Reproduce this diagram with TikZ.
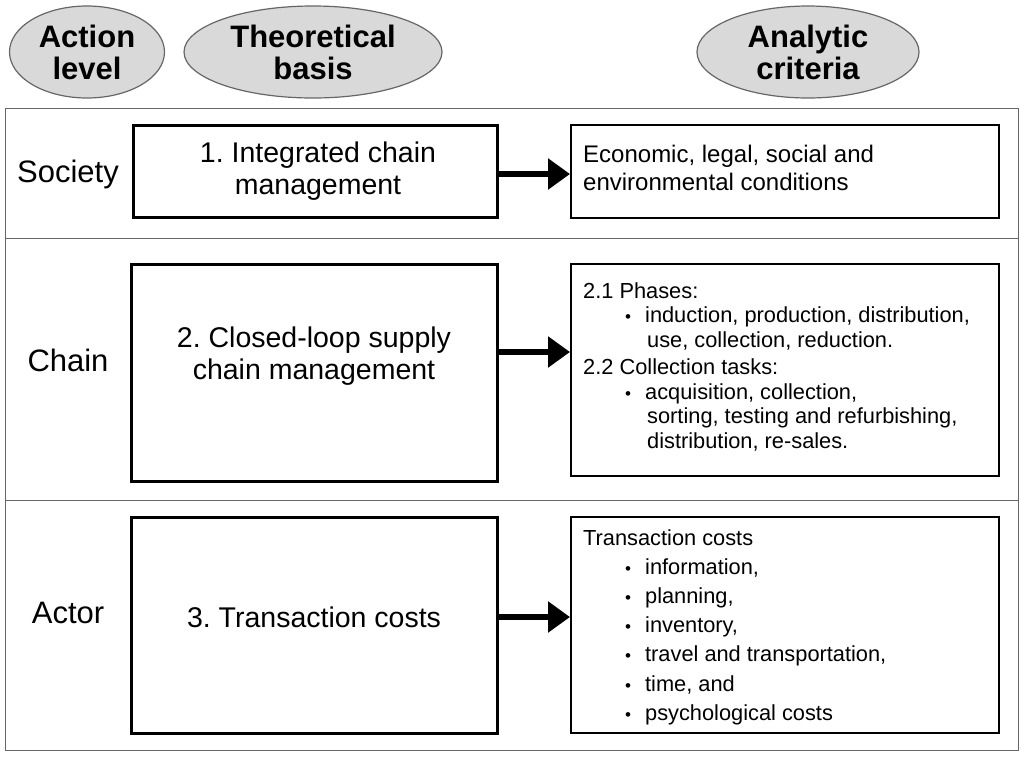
\documentclass[tikz,border=0pt]{standalone}
\usepackage{fontspec}
\setmainfont{Liberation Sans}
\usetikzlibrary{shapes.geometric,arrows.meta}
\frenchspacing
\newcommand{\bul}{\hspace*{42pt}{\fontsize{17}{17}\selectfont\textbullet}\hspace{14pt}}
\begin{document}
\begin{tikzpicture}[x=1pt,y=-1pt,
  hdr/.style={ellipse,draw=gray!80!black,fill=gray!30,line width=1.2pt,font=\bfseries\fontsize{31}{32}\selectfont,align=center,inner sep=0pt},
  lbox/.style={draw=black,line width=3pt},
  rbox/.style={draw=black,line width=1.2pt},
  row/.style={font=\fontsize{31}{33}\selectfont},
  ltxt/.style={font=\fontsize{28.5}{32}\selectfont,align=center},
  rtxt/.style={font=\fontsize{21.8}{24.5}\selectfont,align=left,anchor=north west,inner sep=0pt},
  arr/.style={line width=6pt,-{Triangle[length=22pt,width=30pt]}}]
\useasboundingbox (0,0) rectangle (1024,756);
\node[hdr,minimum width=155,minimum height=92] (h1) at (87,52) {Action\\level};
\node[hdr,minimum width=258,minimum height=92] (h2) at (313,52) {Theoretical\\basis};
\node[hdr,minimum width=222,minimum height=92] (h3) at (808,52) {Analytic\\criteria};
\draw[gray!80!black,line width=1pt] (5,108) rectangle (1018,750);
\draw[gray!80!black,line width=1pt] (5,238) -- (1018,238) (5,500) -- (1018,500);
\node[row] (s) at (68,174) {Society};
\node[row] (c) at (68,360) {Chain};
\node[row] (a) at (68,613) {Actor};
\draw[lbox] (133,125) rectangle (497,217);
\node[ltxt] (l1) at (318,171) {1. Integrated chain\\management};
\draw[lbox] (131,264) rectangle (497,481);
\node[ltxt] (l2) at (314,356) {2. Closed-loop supply\\chain management};
\draw[lbox] (131,517) rectangle (497,733);
\node[ltxt] (l3) at (314,617) {3. Transaction costs};
\draw[rbox] (571,125) rectangle (999,218);
\node[rtxt,font=\fontsize{24}{28}\selectfont] (r1) at (583,145) {Economic, legal, social and\\environmental conditions};
\draw[rbox] (571,264) rectangle (999,476);
\node[rtxt] (r2) at (583,282) {2.1 Phases:\\
\bul induction, production, distribution,\\
\hspace*{64pt}use, collection, reduction.\\[3pt]
2.2 Collection tasks:\\
\bul acquisition, collection,\\
\hspace*{64pt}sorting, testing and refurbishing,\\
\hspace*{64pt}distribution, re-sales.};
\draw[rbox] (571,517) rectangle (999,733);
\node[rtxt,font=\fontsize{21.8}{29.2}\selectfont] (r3) at (583,529) {Transaction costs\\
\bul information,\\
\bul planning,\\
\bul inventory,\\
\bul travel and transportation,\\
\bul time, and\\
\bul psychological costs};
\coordinate (a1s) at (498,174); \coordinate (a1e) at (570,174);
\coordinate (a2s) at (498,352); \coordinate (a2e) at (570,352);
\coordinate (a3s) at (498,617); \coordinate (a3e) at (570,617);
\draw[arr] (a1s) -- (a1e);
\draw[arr] (a2s) -- (a2e);
\draw[arr] (a3s) -- (a3e);
\end{tikzpicture}
\end{document}
